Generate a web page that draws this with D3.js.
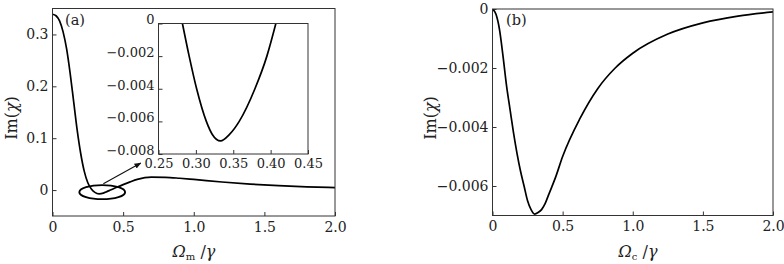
<!DOCTYPE html>
<html>
<head>
<meta charset="utf-8">
<script src="https://cdn.jsdelivr.net/npm/d3@7"></script>
<style>
  body { margin: 0; background: #fff; }
  svg { display: block; }
  text { font-family: "DejaVu Serif", serif; fill: #222; }
  .tick line { stroke: #333; }
</style>
</head>
<body>
<svg width="784" height="264"></svg>
<script>
// panel (a): Im(chi) vs Omega_m / gamma
var aX = [0, 0.025, 0.05, 0.075, 0.1, 0.125, 0.15, 0.175, 0.2, 0.225, 0.25, 0.275, 0.3, 0.33, 0.36, 0.385, 0.41, 0.45, 0.5, 0.55, 0.6, 0.7, 0.8, 0.9, 1.0, 1.2, 1.4, 1.6, 1.8, 2.0];
var aY = [0.339, 0.336, 0.326, 0.305, 0.272, 0.225, 0.17, 0.115, 0.07, 0.036, 0.014, 0.002, -0.0045, -0.0072, -0.0058, -0.003, 0.0, 0.0048, 0.0105, 0.0158, 0.0205, 0.025, 0.0246, 0.0228, 0.0205, 0.0155, 0.0115, 0.0085, 0.0063, 0.0047];
// inset of (a)
var inX = [0.282, 0.291, 0.301, 0.314, 0.322, 0.333, 0.345, 0.358, 0.379, 0.395, 0.407];
var inY = [0, -0.002, -0.004, -0.006, -0.0068, -0.0072, -0.0068, -0.006, -0.004, -0.002, 0];
// panel (b): Im(chi) vs Omega_c / gamma
var bX = [0, 0.025, 0.05, 0.075, 0.1, 0.125, 0.15, 0.175, 0.2, 0.225, 0.25, 0.275, 0.3, 0.325, 0.35, 0.375, 0.4, 0.45, 0.5, 0.625, 0.75, 0.875, 1.0, 1.25, 1.5, 1.75, 2.0];
var bY = [0, -0.00018, -0.0007, -0.0016, -0.0026, -0.0034, -0.0042, -0.0049, -0.0055, -0.006, -0.0065, -0.0068, -0.00695, -0.0069, -0.0068, -0.0066, -0.0063, -0.0057, -0.005, -0.0037, -0.0027, -0.002, -0.0015, -0.00085, -0.00047, -0.00024, -0.0001];

// ticks
var mainXTicks = [0, 0.5, 1.0, 1.5, 2.0];
var aYTicks = [0, 0.1, 0.2, 0.3];
var bYTicks = [0, -0.002, -0.004, -0.006];
var inXTicks = [0.25, 0.30, 0.35, 0.40, 0.45];
var inYTicks = [0, -0.002, -0.004, -0.006, -0.008];

// ellipse + arrow annotation (data units of panel a)
var ellipseC = [0.352, -0.004], ellipseR = [0.162, 0.0135];
var arrowFrom = [0.36, 0.012], arrowTo = [0.625, 0.052];

var svg = d3.select("svg");

svg.append("defs").append("marker")
    .attr("id", "ah")
    .attr("viewBox", "0 0 10 10")
    .attr("refX", 9).attr("refY", 5)
    .attr("markerWidth", 7).attr("markerHeight", 7)
    .attr("markerUnits", "userSpaceOnUse")
    .attr("orient", "auto")
  .append("path")
    .attr("d", "M0,1 L10,5 L0,9 Z")
    .attr("fill", "#111");

function fmtNum(d, digits) {
  if (d === 0) return "0";
  var s = d.toFixed(digits);
  return s.replace("-", "\u2212");
}

function panel(opt) {
  var g = svg.append("g");
  var x = d3.scaleLinear().domain(opt.xDomain).range(opt.xRange);
  var y = d3.scaleLinear().domain(opt.yDomain).range(opt.yRange);

  if (opt.bg) {
    g.append("rect")
      .attr("x", opt.xRange[0]).attr("y", opt.yRange[1])
      .attr("width", opt.xRange[1] - opt.xRange[0])
      .attr("height", opt.yRange[0] - opt.yRange[1])
      .attr("fill", "#fff");
  }

  var xAxis = g.append("g")
      .attr("transform", "translate(0," + opt.yRange[0] + ")")
      .call(d3.axisBottom(x).tickValues(opt.xTicks)
        .tickFormat(function(d) { return fmtNum(d, opt.xDigits); })
        .tickSize(-4).tickSizeOuter(0).tickPadding(opt.xPad));
  var yAxis = g.append("g")
      .attr("transform", "translate(" + opt.xRange[0] + ",0)")
      .call(d3.axisLeft(y).tickValues(opt.yTicks)
        .tickFormat(function(d) { return fmtNum(d, opt.yDigits); })
        .tickSize(-4).tickSizeOuter(0).tickPadding(opt.yPad));
  [xAxis, yAxis].forEach(function(ax) {
    ax.select(".domain").remove();
    ax.selectAll("text")
      .style("font-family", "DejaVu Serif, serif")
      .style("font-size", opt.fs + "px")
      .attr("fill", "#222");
  });
  if (opt.yShift) yAxis.selectAll("text").attr("dy", opt.yShift);

  var clipId = "clip" + opt.id;
  svg.append("clipPath").attr("id", clipId).append("rect")
    .attr("x", opt.xRange[0]).attr("y", opt.yRange[1])
    .attr("width", opt.xRange[1] - opt.xRange[0])
    .attr("height", opt.yRange[0] - opt.yRange[1]);

  var line = d3.line()
      .x(function(d) { return x(d[0]); })
      .y(function(d) { return y(d[1]); })
      .curve(d3.curveMonotoneX);

  g.append("path")
    .datum(d3.zip(opt.xs, opt.ys))
    .attr("clip-path", "url(#" + clipId + ")")
    .attr("d", line)
    .attr("fill", "none")
    .attr("stroke", "#000")
    .attr("stroke-width", 1.7);

  g.append("rect")
    .attr("x", opt.xRange[0]).attr("y", opt.yRange[1])
    .attr("width", opt.xRange[1] - opt.xRange[0])
    .attr("height", opt.yRange[0] - opt.yRange[1])
    .attr("fill", "none")
    .attr("stroke", "#333")
    .attr("stroke-width", 1);

  return { g: g, x: x, y: y };
}

function yTitle(cx, cy) {
  var t = svg.append("text")
    .attr("transform", "translate(" + cx + "," + cy + ") rotate(-90)")
    .attr("text-anchor", "middle")
    .style("font-size", "16px");
  t.append("tspan").text("Im(");
  t.append("tspan").style("font-style", "italic").text("\u03c7");
  t.append("tspan").text(")");
}

function xTitle(cx, cy, sub) {
  var t = svg.append("text")
    .attr("x", cx).attr("y", cy)
    .attr("text-anchor", "middle")
    .style("font-size", "16px");
  t.append("tspan").style("font-style", "italic").text("\u03a9");
  t.append("tspan").attr("dy", 3).style("font-size", "10px").text(sub);
  t.append("tspan").attr("dy", -3).text(" /");
  t.append("tspan").style("font-style", "italic").text("\u03b3");
}

// panel a
var pa = panel({
  id: "a", xDomain: [0, 2], xRange: [52.5, 335], yDomain: [-0.05, 0.35], yRange: [216, 8.5],
  xs: aX, ys: aY, xTicks: mainXTicks, yTicks: aYTicks, xDigits: 1, yDigits: 1, xPad: 6, yPad: 4, fs: 14
});

// ellipse and arrow
pa.g.append("ellipse")
  .attr("cx", pa.x(ellipseC[0])).attr("cy", pa.y(ellipseC[1]))
  .attr("rx", pa.x(ellipseR[0]) - pa.x(0))
  .attr("ry", pa.y(0) - pa.y(ellipseR[1]))
  .attr("fill", "none").attr("stroke", "#000").attr("stroke-width", 1.9);
pa.g.append("line")
  .attr("x1", pa.x(arrowFrom[0])).attr("y1", pa.y(arrowFrom[1]))
  .attr("x2", pa.x(arrowTo[0])).attr("y2", pa.y(arrowTo[1]))
  .attr("stroke", "#111").attr("stroke-width", 1.1)
  .attr("marker-end", "url(#ah)");

// inset
panel({
  id: "in", bg: true, xDomain: [0.25, 0.45], xRange: [158.5, 308], yDomain: [-0.008, 0], yRange: [154, 23.5],
  xs: inX, ys: inY, xTicks: inXTicks, yTicks: inYTicks, xDigits: 2, yDigits: 3, xPad: 4.5, yPad: 4, fs: 13,
  yShift: "0.02em"
});

// panel b
panel({
  id: "b", xDomain: [0, 2], xRange: [492.5, 773], yDomain: [-0.007, 0], yRange: [215.5, 9],
  xs: bX, ys: bY, xTicks: mainXTicks, yTicks: bYTicks, xDigits: 1, yDigits: 3, xPad: 6, yPad: 4, fs: 14
});

// titles and panel tags
yTitle(17, 118);
yTitle(436, 118);
xTitle(194, 257, "m");
xTitle(638, 257, "c");

svg.append("text").attr("x", 65).attr("y", 25).style("font-size", "14.5px").text("(a)");
svg.append("text").attr("x", 506).attr("y", 25).style("font-size", "14.5px").text("(b)");
</script>
</body>
</html>
